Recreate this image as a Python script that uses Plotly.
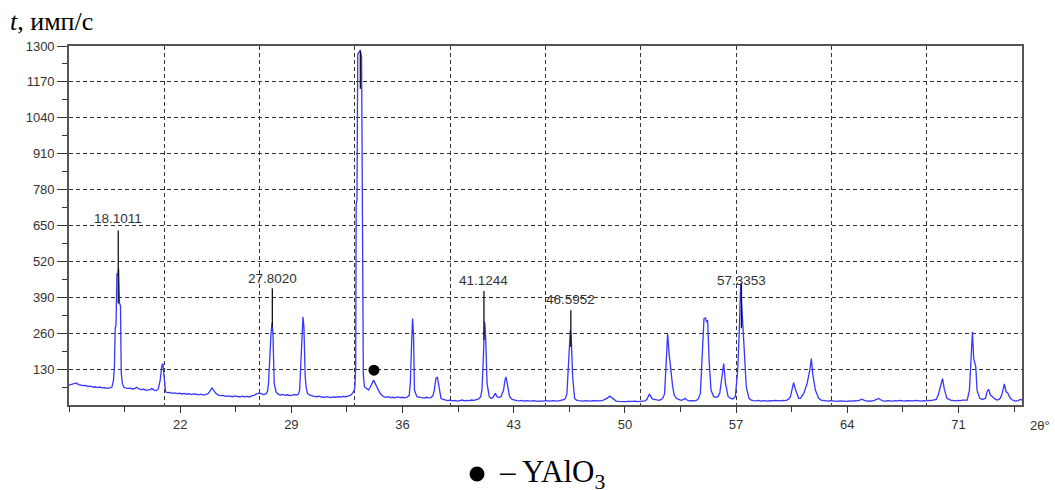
import plotly.graph_objects as go

# ---------------- data ----------------
two_theta = [
    15.0, 15.15, 15.3, 15.45, 15.6, 15.75, 15.9, 16.05, 16.2, 16.35, 16.5, 16.65, 16.8, 16.95, 17.1, 17.25, 17.4, 17.55, 17.7,
    17.8, 17.86, 17.91, 17.96, 18.02, 18.07, 18.12, 18.18, 18.24, 18.29, 18.36, 18.45,
    18.55, 18.7, 18.85, 19.0, 19.15, 19.27, 19.4, 19.55, 19.7, 19.85, 20.0, 20.12, 20.22, 20.35, 20.5, 20.62,
    20.74, 20.85, 20.91, 20.96, 21.0, 21.08,
    21.2, 21.35, 21.5, 21.65, 21.8, 21.95, 22.1, 22.25, 22.4, 22.55, 22.7, 22.85, 23.0, 23.15, 23.3, 23.45, 23.6, 23.75,
    23.88, 24.0, 24.12, 24.25,
    24.4, 24.55, 24.7, 24.85, 25.0, 25.15, 25.3, 25.45, 25.6, 25.75, 25.9, 26.05, 26.2, 26.35, 26.5, 26.65,
    26.8, 26.95, 27.1, 27.25, 27.4, 27.5,
    27.56, 27.67, 27.72, 27.78, 27.84, 27.92, 28.03,
    28.15, 28.3, 28.45, 28.6, 28.75, 28.9, 29.05, 29.2, 29.35, 29.45,
    29.52, 29.62, 29.68, 29.73, 29.79, 29.87, 29.94, 30.02,
    30.15, 30.3, 30.45, 30.6, 30.75, 30.9, 31.05, 31.2, 31.35, 31.5, 31.65, 31.8, 31.95, 32.1, 32.25, 32.4, 32.55, 32.7, 32.85, 32.95,
    33.0, 33.05, 33.08, 33.13, 33.18, 33.26, 33.34, 33.42, 33.47, 33.5, 33.53, 33.6,
    33.7, 33.86, 33.97, 34.07, 34.18, 34.33, 34.43, 34.53, 34.65, 34.8,
    34.95, 35.1, 35.25, 35.4, 35.55, 35.7, 35.85, 36.0, 36.15, 36.3, 36.42,
    36.49, 36.57, 36.63, 36.69, 36.75, 36.9,
    37.05, 37.2, 37.35, 37.5, 37.65, 37.8, 37.92,
    38.0, 38.1, 38.19, 38.27, 38.35, 38.42,
    38.55, 38.7, 38.85, 39.0, 39.15, 39.3, 39.45, 39.6, 39.75, 39.9, 40.05, 40.2, 40.35, 40.5, 40.65, 40.8, 40.92,
    41.0, 41.08, 41.17, 41.23, 41.32, 41.46,
    41.58, 41.7, 41.84, 41.95, 42.05, 42.2,
    42.36, 42.45, 42.51, 42.59, 42.74, 42.9,
    43.05, 43.2, 43.35, 43.5, 43.65, 43.8, 43.95, 44.1, 44.25, 44.4, 44.55, 44.7, 44.85, 45.0, 45.15, 45.3, 45.45, 45.6, 45.75, 45.9, 46.05, 46.2, 46.28,
    46.35, 46.45, 46.56, 46.62, 46.71, 46.83,
    46.95, 47.1, 47.25, 47.4, 47.55, 47.7, 47.85, 48.0, 48.15, 48.3, 48.45, 48.6, 48.75, 48.87, 49.04, 49.17, 49.29,
    49.45, 49.6, 49.75, 49.9, 50.05, 50.2, 50.35, 50.5, 50.65, 50.8, 50.95, 51.1, 51.25, 51.38,
    51.54, 51.62, 51.72, 51.85, 52.0, 52.15, 52.3, 52.42,
    52.5, 52.61, 52.69, 52.78, 52.9, 53.0, 53.1, 53.25, 53.38,
    53.55, 53.7, 53.8, 53.9, 54.05, 54.2, 54.35, 54.5, 54.62,
    54.75, 54.87, 54.98, 55.08, 55.14, 55.21, 55.3, 55.42, 55.59,
    55.75, 55.87,
    55.97, 56.1, 56.22, 56.33, 56.5, 56.65, 56.8, 56.95,
    57.1, 57.2, 57.29, 57.35, 57.44, 57.54, 57.64, 57.81,
    57.95, 58.1, 58.25, 58.4, 58.55, 58.7, 58.85, 59.0, 59.15, 59.3, 59.45, 59.6, 59.75, 59.9, 60.05, 60.2, 60.32,
    60.42, 60.52, 60.62, 60.75, 60.94, 61.05,
    61.26, 61.47, 61.64, 61.74, 61.82, 61.99, 62.2,
    62.35, 62.5, 62.65, 62.8, 62.95, 63.1, 63.25, 63.4, 63.55, 63.7, 63.85, 64.0, 64.15, 64.3, 64.45, 64.6, 64.75, 64.93,
    65.1, 65.25, 65.4, 65.55, 65.7, 65.85, 65.97, 66.1, 66.25, 66.4, 66.55, 66.7, 66.85, 67.0, 67.15, 67.3, 67.45, 67.6,
    67.75, 67.9, 68.05, 68.2, 68.35, 68.5, 68.65, 68.8, 68.95, 69.1, 69.25, 69.4, 69.6,
    69.72, 69.81, 69.95, 70.0, 70.1, 70.27, 70.5,
    70.65, 70.8, 70.95, 71.1, 71.25, 71.4, 71.55,
    71.69, 71.8, 71.88, 71.96, 72.03, 72.09, 72.17, 72.34,
    72.5, 72.62,
    72.7, 72.8, 72.9, 73.01, 73.1, 73.18, 73.3, 73.43, 73.55, 73.65,
    73.75, 73.89, 74.0, 74.1, 74.18, 74.27, 74.4, 74.58, 74.75, 74.9, 75.0,
]
intensity = [
    72, 74, 77, 80, 74, 72, 70, 71, 67, 68, 65, 66, 63, 65, 62, 63, 60, 62, 64,
    90, 140, 278, 290, 477, 470, 494, 368, 360, 116, 78, 64,
    62, 60, 61, 58, 60, 64, 58, 56, 57, 53, 55, 56, 60, 54, 52, 58,
    90, 144, 150, 120, 90, 48,
    45, 46, 42, 44, 41, 43, 40, 42, 39, 41, 38, 40, 39, 37, 39, 36, 38, 41,
    50, 62, 52, 42,
    36, 34, 35, 31, 33, 32, 30, 33, 31, 29, 32, 30, 31, 29, 33, 35,
    40, 43, 41, 38, 40, 50,
    78, 241, 260, 297, 259, 78, 48,
    40, 36, 38, 35, 37, 34, 36, 38, 36, 40,
    54, 199, 250, 319, 283, 102, 60, 42,
    36, 33, 31, 30, 32, 29, 28, 30, 28, 27, 29, 28, 30, 29, 31, 30, 32, 35, 42, 52,
    65, 140, 730, 740, 1270, 1280, 1285, 1260, 680, 660, 110, 66,
    62, 54, 65, 78, 90, 72, 58, 48, 38, 30,
    28, 30, 27, 28, 26, 29, 27, 28, 26, 29, 35,
    78, 223, 313, 259, 54, 30,
    28, 27, 25, 28, 26, 27, 35,
    54, 96, 102, 72, 40, 24,
    20, 18, 16, 18, 15, 17, 14, 16, 18, 15, 17, 16, 18, 17, 19, 22, 30,
    54, 162, 301, 250, 78, 30,
    24, 28, 42, 30, 27, 30,
    54, 90, 102, 78, 30, 20,
    17, 16, 15, 17, 14, 16, 15, 14, 16, 15, 13, 15, 14, 16, 15, 14, 16, 15, 14, 16, 17, 20, 28,
    42, 150, 271, 244, 102, 24,
    18, 16, 15, 14, 16, 15, 14, 16, 15, 14, 15, 17, 20, 24, 32, 26, 18,
    14, 13, 12, 13, 12, 13, 12, 13, 14, 12, 13, 14, 15, 20,
    40, 32, 22, 20, 18, 17, 20, 28,
    42, 150, 259, 187, 114, 70, 36, 24, 20,
    17, 20, 24, 18, 15, 16, 15, 17, 22,
    42, 199, 313, 315, 300, 307, 162, 54, 30,
    28, 32,
    42, 90, 150, 78, 30, 24, 22, 30,
    126, 271, 440, 367, 283, 187, 66, 24,
    18, 16, 15, 17, 14, 16, 15, 14, 16, 15, 17, 16, 15, 17, 16, 18, 22,
    30, 60, 81, 54, 24, 24,
    42, 78, 126, 168, 114, 54, 24,
    18, 16, 15, 14, 16, 15, 14, 13, 15, 14, 15, 13, 15, 14, 16, 15, 17, 21,
    16, 14, 15, 14, 17, 22, 24, 19, 15, 14, 16, 15, 14, 16, 15, 17, 15, 14,
    16, 15, 14, 15, 17, 15, 14, 16, 15, 17, 16, 18, 20,
    35, 54, 90, 96, 60, 24, 18,
    16, 15, 17, 16, 18, 17, 18,
    54, 162, 265, 168, 150, 138, 54, 24,
    20, 22,
    24, 48, 57, 36, 30, 28, 22, 18, 20, 26,
    42, 76, 48, 44, 34, 24, 18, 14, 16, 20, 18,
]

peak_labels = ["18.1011", "27.8020", "33.3418", "41.1244", "46.5952", "57.3353"]
peak_pos = [18.1011, 27.8020, 33.3418, 41.1244, 46.5952, 57.3353]

yalo3_pos = [34.2]
yalo3_val = [126]

x_tick_labels = [22, 29, 36, 43, 50, 57, 64, 71]
y_tick_labels = [130, 260, 390, 520, 650, 780, 910, 1040, 1170, 1300]

# ---------------- layout parameters for the peak markers ----------------
label_text_y = [675, 459, 1322, 451, 383, 451]
label_line_top = [632, 423, 1282, 413, 343, 440]
label_line_bottom = [368, 282, 1145, 235, 210, 278]

fig = go.Figure()

fig.add_trace(go.Scatter(
    x=two_theta, y=intensity, mode="lines",
    line=dict(color="#3636ff", width=1.3), hoverinfo="skip", showlegend=False,
))

lx, ly = [], []
for p, t, b in zip(peak_pos, label_line_top, label_line_bottom):
    lx += [p, p, None]
    ly += [t, b, None]
fig.add_trace(go.Scatter(x=lx, y=ly, mode="lines", line=dict(color="#111111", width=1.3),
                         hoverinfo="skip", showlegend=False, cliponaxis=False))

fig.add_trace(go.Scatter(x=yalo3_pos, y=yalo3_val, mode="markers",
                         marker=dict(color="black", size=11), hoverinfo="skip", showlegend=False))

# invisible trace to carry the labelled x axis
fig.add_trace(go.Scatter(x=[15, 75], y=[0, 0], xaxis="x2", mode="lines",
                         line=dict(width=0), hoverinfo="skip", showlegend=False))

tick_font = dict(family="Arial, Liberation Sans, sans-serif", size=13, color="#333333")
grid_dash = "4px,3px"

fig.update_layout(
    width=1055, height=490,
    margin=dict(l=69, r=33, t=46, b=85),
    paper_bgcolor="white", plot_bgcolor="white",
    xaxis=dict(
        range=[15, 75], tickmode="linear", tick0=15, dtick=6,
        showgrid=True, gridcolor="#333333", gridwidth=1, griddash=grid_dash,
        showticklabels=False, ticks="", zeroline=False,
        showline=True, linecolor="#555555", linewidth=1.6, mirror=True,
    ),
    xaxis2=dict(
        overlaying="x", range=[15, 75], tickmode="array", tickvals=x_tick_labels,
        ticktext=[str(v) for v in x_tick_labels],
        ticks="outside", ticklen=7, tickwidth=1.3, tickcolor="#333333",
        tickfont=tick_font,
        minor=dict(ticks="outside", ticklen=6, tickwidth=1.3, tickcolor="#333333",
                   tick0=18.5, dtick=3.5, showgrid=False),
        showgrid=False, zeroline=False, showline=False, side="bottom",
    ),
    yaxis=dict(
        range=[0, 1300], tickmode="array", tickvals=y_tick_labels,
        ticktext=[str(v) for v in y_tick_labels],
        showgrid=True, gridcolor="#333333", gridwidth=1, griddash=grid_dash,
        ticks="outside", ticklen=10, tickwidth=1.3, tickcolor="#333333",
        tickfont=tick_font,
        minor=dict(ticks="outside", ticklen=5, tickwidth=1.3, tickcolor="#333333",
                   tick0=65, dtick=130, showgrid=False),
        zeroline=False, showline=True, linecolor="#555555", linewidth=1.6, mirror=True,
    ),
)

label_font = dict(family="Arial, Liberation Sans, sans-serif", size=13.5, color="#333333")
annotations = []
for lab, p, ty in zip(peak_labels, peak_pos, label_text_y):
    annotations.append(dict(x=p, y=ty, xref="x", yref="y", text=lab, showarrow=False,
                            xanchor="center", yanchor="middle", font=label_font))

annotations.append(dict(x=-0.064, y=1.067, xref="paper", yref="paper", text="<i>t</i>, имп/с",
                        showarrow=False, xanchor="left", yanchor="middle", align="left",
                        font=dict(family="Liberation Serif, Times New Roman, serif", size=26, color="black")))
annotations.append(dict(x=1.0192, y=-0.056, xref="paper", yref="paper", text="2θ°",
                        showarrow=False, xanchor="center", yanchor="middle", font=tick_font))
annotations.append(dict(x=0.449, y=-0.191, xref="paper", yref="paper", text="– YAlO<sub>3</sub>",
                        showarrow=False, xanchor="left", yanchor="middle", align="left",
                        font=dict(family="Liberation Serif, Times New Roman, serif", size=31, color="black")))
fig.update_layout(annotations=annotations)

fig.add_shape(type="circle", xref="paper", yref="paper",
              x0=0.4203, x1=0.4360, y0=-0.2131, y1=-0.1713,
              fillcolor="black", line=dict(color="black", width=0))

fig.write_html("out.html", config={"displayModeBar": False},
               post_script="document.body.style.margin='0';")
